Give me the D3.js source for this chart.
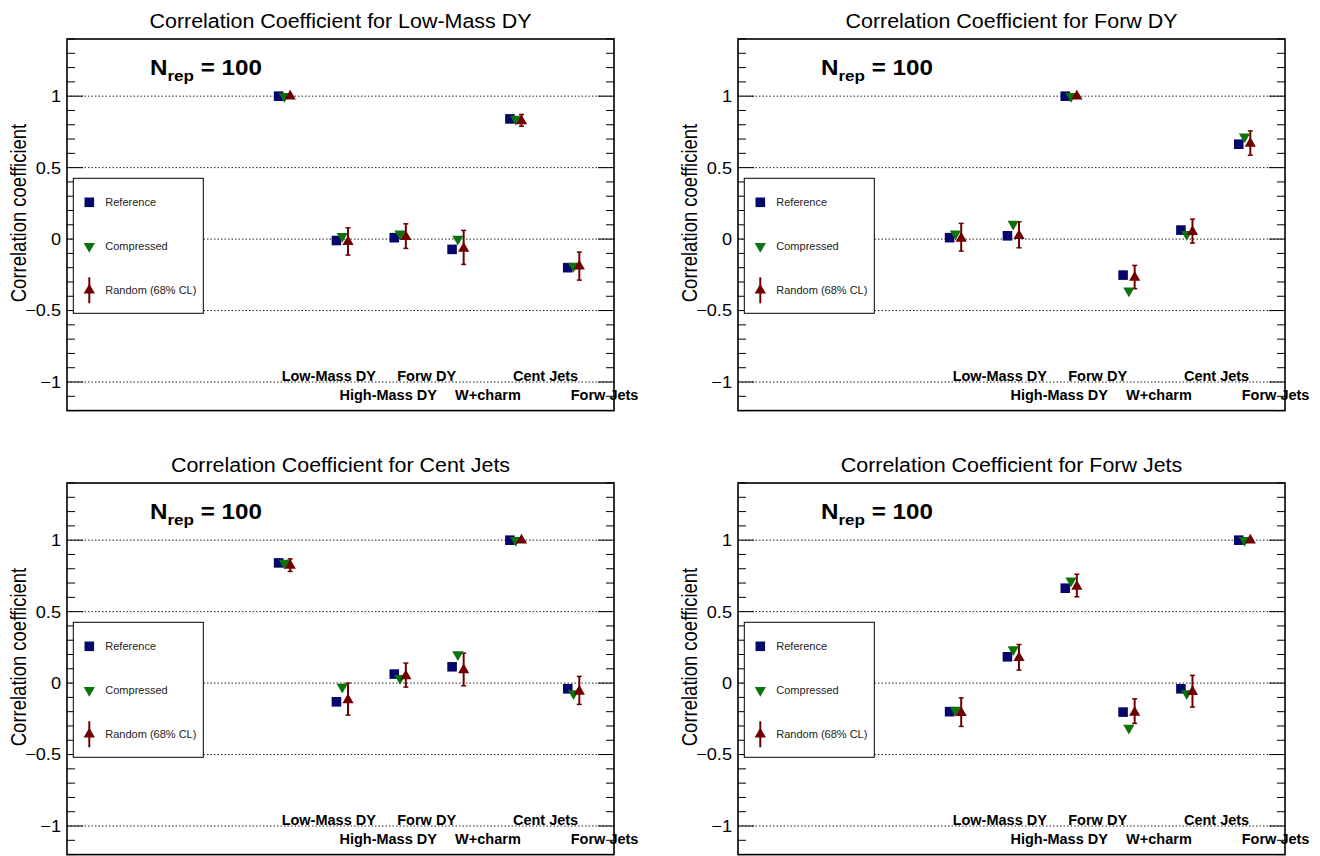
<!DOCTYPE html>
<html><head><meta charset="utf-8">
<script src="https://cdn.jsdelivr.net/npm/d3@7"></script>
<style>
html,body{margin:0;padding:0;background:#fff;}
svg{display:block;font-family:"Liberation Sans",Arial,Helvetica,sans-serif;}
</style></head>
<body>
<svg id="chart" width="1320" height="856"></svg>
<script>
// ---------------- data ----------------
const categories = ["Low-Mass DY","High-Mass DY","Forw DY","W+charm","Cent Jets","Forw Jets"];
const panelTitles = ["Correlation Coefficient for Low-Mass DY","Correlation Coefficient for Forw DY",
                     "Correlation Coefficient for Cent Jets","Correlation Coefficient for Forw Jets"];
const yTickValues = [-1, -0.5, 0, 0.5, 1];
const yTickLabels = ["\u22121", "\u22120.5", "0", "0.5", "1"];
const legendLabels = ["Reference","Compressed","Random (68% CL)"];
const nrepLabel = "100";

// reference values, one array per panel
const refLowMassDY  = [1.00, -0.01, 0.01, -0.072, 0.841, -0.20];
const refForwDY     = [0.01, 0.023, 1.00, -0.252, 0.063, 0.664];
const refCentJets   = [0.841, -0.131, 0.063, 0.114, 1.00, -0.04];
const refForwJets   = [-0.20, 0.184, 0.664, -0.203, -0.04, 1.00];
// compressed
const compLowMassDY = [1.00, 0.02, 0.037, 0.0, 0.84, -0.189];
const compForwDY    = [0.037, 0.105, 1.00, -0.361, 0.034, 0.716];
const compCentJets  = [0.84, -0.028, 0.034, 0.20, 1.00, -0.073];
const compForwJets  = [-0.189, 0.235, 0.716, -0.315, -0.073, 1.00];
// random: central value
const randLowMassDY = [1.00, -0.019, 0.016, -0.065, 0.827, -0.19];
const randForwDY    = [0.005, 0.023, 1.00, -0.268, 0.051, 0.669];
const randCentJets  = [0.823, -0.119, 0.049, 0.091, 1.00, -0.058];
const randForwJets  = [-0.207, 0.177, 0.676, -0.205, -0.061, 1.00];
// random: 68% CL band low / high
const randLoLowMassDY = [1.00, -0.112, -0.065, -0.177, 0.79, -0.287];
const randHiLowMassDY = [1.00, 0.079, 0.107, 0.061, 0.872, -0.091];
const randLoForwDY    = [-0.084, -0.061, 1.00, -0.347, -0.028, 0.587];
const randHiForwDY    = [0.11, 0.121, 1.00, -0.184, 0.14, 0.757];
const randLoCentJets  = [0.781, -0.224, -0.028, -0.019, 1.00, -0.149];
const randHiCentJets  = [0.869, 0.0, 0.14, 0.21, 1.00, 0.047];
const randLoForwJets  = [-0.303, 0.091, 0.604, -0.282, -0.168, 1.00];
const randHiForwJets  = [-0.103, 0.27, 0.762, -0.11, 0.054, 1.00];

const panels = [
  {title: panelTitles[0], ref: refLowMassDY, comp: compLowMassDY, rand: randLowMassDY, lo: randLoLowMassDY, hi: randHiLowMassDY},
  {title: panelTitles[1], ref: refForwDY, comp: compForwDY, rand: randForwDY, lo: randLoForwDY, hi: randHiForwDY},
  {title: panelTitles[2], ref: refCentJets, comp: compCentJets, rand: randCentJets, lo: randLoCentJets, hi: randHiCentJets},
  {title: panelTitles[3], ref: refForwJets, comp: compForwJets, rand: randForwJets, lo: randLoForwJets, hi: randHiForwJets}
];

// ---------------- style ----------------
const colRef = "#06066b", colComp = "#0c720c", colRand = "#700000";
const panelDX = 671, panelDY = 444;
const frame = {x: 67, y: 39, w: 547, h: 371.6};
const sx = 1.1; // horizontal stretch of the glyphs seen in the original

const svg = d3.select("#chart");

const x = d3.scaleLinear().domain([-3.66, 5.8]).range([0, frame.w]);
const y = d3.scaleLinear().domain([-1.2, 1.4]).range([frame.h, 0]);

const sqSym = d3.symbol().type(d3.symbolSquare).size(92);
const triSym = d3.symbol().type(d3.symbolTriangle).size(55);

panels.forEach((p, pi) => {
  const col = pi % 2, row = Math.floor(pi / 2);
  const g = svg.append("g").attr("transform", `translate(${col*panelDX},${row*panelDY})`);

  // title
  g.append("text").attr("transform", `translate(${frame.x + frame.w/2},28) scale(${sx},1)`)
    .attr("text-anchor", "middle").attr("font-size", 19.5).attr("fill", "#000").text(p.title);

  // y-axis title
  g.append("text").attr("transform", `translate(26,213) scale(1.22,1) rotate(-90)`)
    .attr("text-anchor", "middle").attr("font-size", 18.5).attr("fill", "#000").text("Correlation coefficient");

  const f = g.append("g").attr("transform", `translate(${frame.x},${frame.y})`);

  // dotted grid
  f.selectAll("line.grid").data(yTickValues).join("line").attr("class","grid")
    .attr("x1", 0).attr("x2", frame.w).attr("y1", d => y(d)).attr("y2", d => y(d))
    .attr("stroke", "#222").attr("stroke-width", 1).attr("stroke-dasharray", "1.5,2");

  // ticks left and right
  const minorTicks = d3.range(-12, 15).map(v => v / 10);
  const isMajor = v => Math.abs(v*2 - Math.round(v*2)) < 1e-6;
  f.selectAll("line.tl").data(minorTicks).join("line").attr("class","tl")
    .attr("x1", 0).attr("x2", d => isMajor(d) ? 16 : 8)
    .attr("y1", d => y(d)).attr("y2", d => y(d)).attr("stroke", "#000").attr("stroke-width", 1);
  f.selectAll("line.tr").data(minorTicks).join("line").attr("class","tr")
    .attr("x1", frame.w).attr("x2", d => frame.w - (isMajor(d) ? 16 : 8))
    .attr("y1", d => y(d)).attr("y2", d => y(d)).attr("stroke", "#000").attr("stroke-width", 1);

  // tick labels
  f.selectAll("text.tick").data(yTickValues).join("text").attr("class","tick")
    .attr("transform", d => `translate(-6,${y(d)}) scale(${sx},1)`).attr("dy", "0.36em")
    .attr("text-anchor", "end").attr("font-size", 16.5).attr("fill", "#000")
    .text((d, i) => yTickLabels[i]);

  // frame
  f.append("rect").attr("x", 0).attr("y", 0).attr("width", frame.w).attr("height", frame.h)
    .attr("fill", "none").attr("stroke", "#000").attr("stroke-width", 1.6);

  // N_rep
  const nt = f.append("text").attr("transform", `translate(${150 - frame.x},${75 - frame.y}) scale(${sx},1)`)
    .attr("font-size", 22).attr("font-weight", "bold").attr("fill", "#000");
  nt.append("tspan").text("N");
  nt.append("tspan").attr("font-size", 15.5).attr("dy", 6).text("rep");
  nt.append("tspan").attr("dy", -6).text(" = " + nrepLabel);

  // legend
  const lg = f.append("g").attr("transform", `translate(${73.3-frame.x},${178.3-frame.y})`);
  lg.append("rect").attr("width", 130).attr("height", 135).attr("fill", "#fff")
    .attr("stroke", "#000").attr("stroke-width", 1);
  const ly = [24, 68, 112];
  lg.append("path").attr("d", sqSym).attr("transform", `translate(16,${ly[0]})`).attr("fill", colRef);
  lg.append("path").attr("d", triSym).attr("transform", `translate(16,${ly[1]}) rotate(180)`).attr("fill", colComp);
  lg.append("line").attr("x1", 16).attr("x2", 16).attr("y1", ly[2]-13).attr("y2", ly[2]+13)
    .attr("stroke", colRand).attr("stroke-width", 2);
  lg.append("path").attr("d", triSym).attr("transform", `translate(16,${ly[2]})`).attr("fill", colRand);
  lg.selectAll("text.leg").data(legendLabels).join("text").attr("class","leg")
    .attr("x", 32).attr("y", (d,i) => ly[i]).attr("dy", "0.36em")
    .attr("font-size", 11).attr("fill", "#222").text(d => d);

  // category labels
  f.selectAll("text.cat").data(categories).join("text").attr("class","cat")
    .attr("x", (d,i) => x(i) + 3)
    .attr("y", (d,i) => i % 2 === 0 ? y(-0.993) : y(-1.126))
    .attr("font-size", 14.5).attr("font-weight", "bold").attr("fill", "#000").text(d => d);

  // error bars (random)
  const idx = d3.range(categories.length);
  f.selectAll("line.err").data(idx).join("line").attr("class","err")
    .attr("x1", i => x(i+0.2)).attr("x2", i => x(i+0.2))
    .attr("y1", i => y(p.lo[i])).attr("y2", i => y(p.hi[i]))
    .attr("stroke", colRand).attr("stroke-width", 2);
  ["lo","hi"].forEach(k => {
    f.selectAll("line.cap"+k).data(idx).join("line").attr("class","cap"+k)
      .attr("x1", i => x(i+0.2)-2.5).attr("x2", i => x(i+0.2)+2.5)
      .attr("y1", i => y(p[k][i])).attr("y2", i => y(p[k][i]))
      .attr("stroke", colRand).attr("stroke-width", 1.5);
  });

  // markers
  f.selectAll("path.ref").data(idx).join("path").attr("class","ref")
    .attr("d", sqSym).attr("transform", i => `translate(${x(i)},${y(p.ref[i])})`).attr("fill", colRef);
  f.selectAll("path.comp").data(idx).join("path").attr("class","comp")
    .attr("d", triSym).attr("transform", i => `translate(${x(i+0.1)},${y(p.comp[i])}) rotate(180)`).attr("fill", colComp);
  f.selectAll("path.rand").data(idx).join("path").attr("class","rand")
    .attr("d", triSym).attr("transform", i => `translate(${x(i+0.2)},${y(p.rand[i])})`).attr("fill", colRand);
});
</script>
</body></html>
